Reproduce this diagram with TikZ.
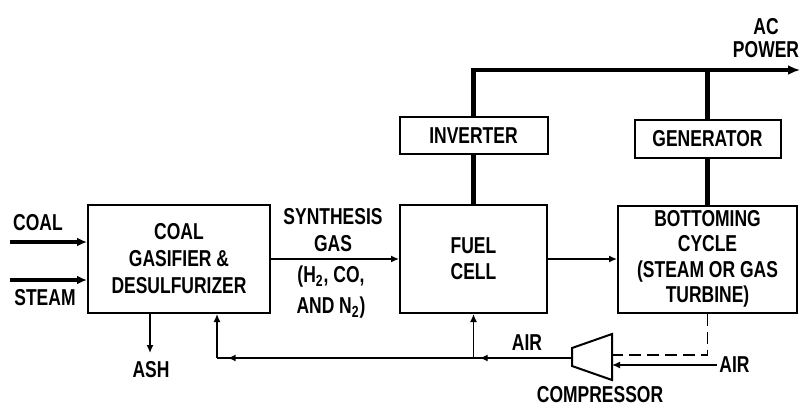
\documentclass[tikz,border=0pt]{standalone}
\usepackage{fontspec}
\setmainfont{Liberation Sans}[FakeStretch=0.76]
\usetikzlibrary{arrows.meta, positioning, decorations.markings}

\begin{document}
\begin{tikzpicture}[x=0.5pt, y=-0.5pt,
            node distance=10pt,
            font=\fontsize{11.5}{13.5}\selectfont\bfseries,
            box/.style={draw, line width=1pt, inner sep=1pt, align=center},
            lbl/.style={inner sep=0pt, align=center},
            arr/.style={-{Latex[length=4pt, width=3.5pt]}, line width=0.7pt},
            feed/.style={-{Latex[length=5pt, width=4.5pt]}, line width=1.8pt},
            bus/.style={line width=2.2pt},
            midarr/.style={line width=0.7pt, postaction=decorate,
                           decoration={markings,
                             mark=at position 0.26 with {\arrow{Latex[length=4pt, width=3.5pt]}},
                             mark=at position 0.97 with {\arrow{Latex[length=4pt, width=3.5pt]}}}},
          ]
          \useasboundingbox (0,0) rectangle (801,407);
          % blocks
          \node[box, minimum width=91pt, minimum height=54pt] (gas) at (179,259) {COAL\\GASIFIER \&\\DESULFURIZER};
          \node[box, minimum width=73.5pt, minimum height=54pt, right=64pt of gas, font=\fontsize{11.5}{13}\selectfont\bfseries] (fuel) {FUEL\\CELL};
          \node[box, minimum width=89.5pt, minimum height=53.5pt, right=34.5pt of fuel, font=\fontsize{11.5}{12.7}\selectfont\bfseries] (bot) {BOTTOMING\\CYCLE\\(STEAM OR GAS\\TURBINE)};
          \node[box, minimum width=74pt, minimum height=18.5pt, above=24.5pt of fuel] (inv) {INVERTER};
          \node[box, minimum width=73pt, minimum height=19pt, above=23pt of bot] (gen) {GENERATOR};
          % compressor
          \draw[line width=1pt] (572,348) -- (612,334) -- (612,380) -- (572,366) -- cycle;
          \coordinate (compout) at (572,358);
          \coordinate (compdash) at (612,355);
          \coordinate (compair) at (612,365);
          % free ends
          \coordinate (coalin) at (10,242);
          \coordinate (steamin) at (10,280);
          \coordinate (ashout) at (150,353);
          \coordinate (ret) at (217,358);
          \coordinate (acout) at (800,70);
          \coordinate (airin) at (717,365);
          % labels
          \node[lbl] (coal) at (38,223) {COAL};
          \node[lbl] (steam) at (45,298) {STEAM};
          \node[lbl] (ash) at (151,370) {ASH};
          \node[lbl] (synth) at (333,230) {SYNTHESIS\\GAS};
          \node[lbl, font=\fontsize{11.5}{15.5}\selectfont\bfseries] (h2) at (331,292) {(H\textsubscript{2}, CO,\\AND N\textsubscript{2})};
          \node[lbl, font=\fontsize{11.5}{11.5}\selectfont\bfseries] (acpow) at (766,38) {AC\\POWER};
          \node[lbl] (air1) at (527,343) {AIR};
          \node[lbl, anchor=west] (air2) at (719,365) {AIR};
          \node[lbl] (comp) at (600,395) {COMPRESSOR};
          % connectors
          \draw[feed] (coalin) -- (coalin -| gas.west);
          \draw[feed] (steamin) -- (steamin -| gas.west);
          \draw[arr] (ashout |- gas.south) -- (ashout);
          \draw[arr] (gas) -- (fuel);
          \draw[arr] (fuel) -- (bot);
          \draw[bus] (inv) -- (fuel);
          \draw[bus] (gen) -- (bot);
          \draw[bus, -{Latex[length=6pt, width=5pt]}] (inv.north) |- (acout);
          \draw[bus] (gen.north) -- (gen.north |- acout);
          \draw[midarr] (compout) -- (ret);
          \draw[arr] (ret) -- (ret |- gas.south);
          \draw[arr] (ret -| fuel.south) -- (fuel.south);
          \draw[line width=0.7pt, dash pattern=on 6pt off 3pt] (bot.south) |- (compdash);
          \draw[arr] (airin) -- (compair);
        \end{tikzpicture}
\end{document}
